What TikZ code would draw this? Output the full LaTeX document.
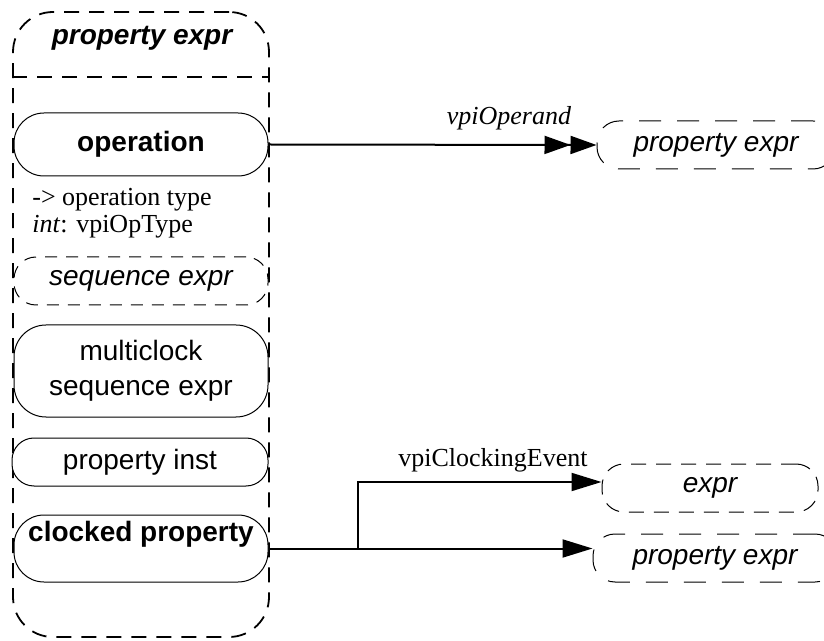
\documentclass[tikz,border=0pt]{standalone}
\usepackage{fontspec}
\setmainfont{Liberation Serif}
\setsansfont{Liberation Sans}
\usetikzlibrary{arrows.meta, positioning}
\tikzset{
  objbox/.style={
    rectangle, draw=black, fill=white, line width=0.5pt,
    inner sep=0pt, align=center,
    font=\sffamily\fontsize{14pt}{17.5pt}\selectfont
  },
  dashbox/.style={objbox, dash pattern=on 6pt off 4.5pt},
  wideobj/.style={objbox, dash pattern=on 11pt off 8pt},
  framebox/.style={rectangle, draw=black, line width=0.9pt, rounded corners=20pt,
    dash pattern=on 7.5pt off 5pt, inner sep=0pt},
  divider/.style={draw=black, line width=0.9pt, dash pattern=on 7.5pt off 5pt},
  attrib/.style={font=\fontsize{13pt}{13.5pt}\selectfont, align=left, inner sep=0pt},
  rellabel/.style={font=\fontsize{13pt}{15pt}\selectfont, inner sep=0pt},
  relline/.style={line width=1pt, draw=black},
  onearrow/.style={relline, -{Triangle[length=15pt,width=9pt]}},
  twoarrow/.style={relline, -{Triangle[length=13pt,width=9pt]Triangle[length=13pt,width=9pt]}},
}

\begin{document}
\begin{tikzpicture}[x=0.5pt, y=-0.5pt]
  \useasboundingbox (0,0) rectangle (824,641);

  % class frame
  \node[framebox, minimum width=128pt, minimum height=312.5pt] (frame) at (141,324.5) {};
  \coordinate (divy) at (0,77);
  \draw[divider] (frame.west |- divy) -- (frame.east |- divy);
  \node[font=\sffamily\bfseries\itshape\fontsize{14pt}{17pt}\selectfont] (title) at (142,38) {property expr};

  % member objects
  \node[objbox, rounded corners=15pt, minimum width=127pt, minimum height=31.5pt,
        font=\sffamily\bfseries\fontsize{14pt}{17pt}\selectfont] (op) at (141,144.5) {operation};
  \node[attrib, anchor=west] (optype) at (32,213.5) {-> operation type\\\textit{int}: vpiOpType};
  \node[dashbox, rounded corners=11pt, minimum width=127pt, minimum height=24pt] (seq) at (141,281)
    {\itshape sequence expr};
  \node[objbox, rounded corners=16pt, minimum width=127pt, minimum height=46pt] (multi) at (141,371)
    {multiclock\\sequence expr};
  \node[objbox, rounded corners=11pt, minimum width=128pt, minimum height=24pt] (inst) at (140,462)
    {property inst};
  \node[objbox, rounded corners=15pt, minimum width=127pt, minimum height=33.5pt,
        font=\sffamily\bfseries\fontsize{14pt}{17.5pt}\selectfont] (clk) at (141,548.5)
    {clocked property\\\mbox{}};

  % related objects
  \node[wideobj, rounded corners=11pt, minimum width=119pt, minimum height=24pt] (prop1) at (716,145)
    {\itshape property expr};
  \node[dashbox, dash pattern=on 7.5pt off 5pt, rounded corners=11pt, minimum width=108pt,
        minimum height=24pt] (expr) at (710,488) {\itshape expr};
  \node[wideobj, rounded corners=11pt, minimum width=122pt, minimum height=24pt] (prop2) at (715,558)
    {\itshape property expr};

  % relations
  \draw[twoarrow] (op.east) -- (prop1.west);
  \node[rellabel, font=\itshape\fontsize{13pt}{15pt}\selectfont] (operandlbl) at (509,118) {vpiOperand};

  \coordinate[right=44.5pt of clk.east] (fork);
  \draw[onearrow] (clk.east) -- (clk.east -| prop2.west);
  \draw[onearrow] (fork) |- ([yshift=3pt]expr.west);
  \node[rellabel] (clocklbl) at (493,460) {vpiClockingEvent};
\end{tikzpicture}
\end{document}
